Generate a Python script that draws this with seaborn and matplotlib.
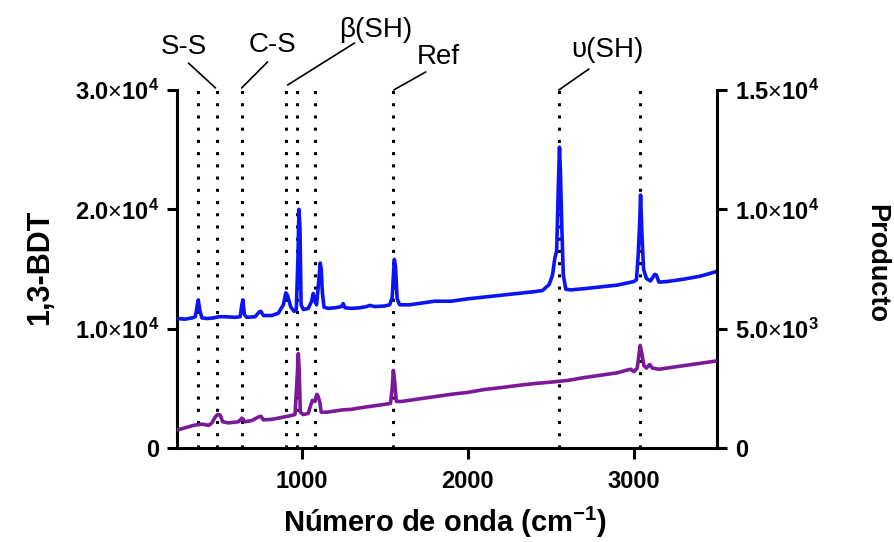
import matplotlib
matplotlib.use("Agg")
import matplotlib.pyplot as plt
import seaborn as sns
import pandas as pd
from matplotlib.ticker import FuncFormatter, FixedLocator

# ---- data ----
bdt_x = [250, 300, 340, 360, 370, 378, 388, 400, 430, 470, 500, 540, 600, 630, 640, 647, 655, 670,
         720, 745, 755, 770, 820, 860, 890, 905, 915, 935, 955, 968, 978, 984, 990, 997, 1010, 1040,
         1060, 1070, 1080, 1090, 1100, 1112, 1118, 1125, 1135, 1160, 1200, 1240, 1250, 1262, 1300,
         1350, 1390, 1410, 1440, 1500, 1530, 1545, 1558, 1565, 1575, 1590, 1650, 1700, 1800, 1900,
         2000, 2100, 2200, 2300, 2400, 2450, 2490, 2510, 2525, 2535, 2545, 2552, 2558, 2565, 2575,
         2590, 2620, 2700, 2800, 2900, 2950, 3000, 3015, 3025, 3035, 3040, 3048, 3058, 3075, 3100,
         3125, 3135, 3150, 3200, 3300, 3400, 3450, 3500]
bdt_y = [10850, 10800, 10900, 11000, 11800, 12400, 11500, 10900, 10850, 10900, 11000, 11000, 10950,
         11000, 12000, 12400, 11200, 10950, 11000, 11400, 11450, 11100, 11100, 11300, 12000, 13000,
         12800, 11800, 11450, 11600, 16000, 20000, 18500, 12000, 11600, 11700, 12300, 12950, 12300,
         12000, 13500, 15500, 15000, 13000, 11800, 11700, 11750, 11850, 12100, 11750, 11700, 11750,
         11850, 11950, 11850, 11900, 12000, 12600, 15800, 15200, 12500, 12000, 12000, 12100, 12300,
         12300, 12500, 12650, 12800, 12950, 13100, 13200, 13700, 14500, 16000, 16500, 22000, 25200,
         23000, 19000, 14500, 13300, 13250, 13350, 13500, 13650, 13800, 13950, 14100, 16000, 19000,
         21200, 18000, 15000, 14200, 14000, 14550, 14500, 13900, 13950, 14150, 14400, 14600, 14800]

prod_x = [250, 300, 350, 400, 440, 460, 480, 495, 510, 525, 560, 620, 640, 648, 660, 700, 740, 755,
          770, 820, 880, 930, 960, 972, 980, 986, 992, 1010, 1040, 1055, 1065, 1080, 1092, 1100,
          1110, 1118, 1150, 1200, 1250, 1300, 1350, 1400, 1450, 1500, 1535, 1545, 1552, 1560, 1570,
          1600, 1700, 1800, 1900, 2000, 2100, 2200, 2300, 2400, 2500, 2600, 2700, 2800, 2900, 2950,
          2980, 3000, 3020, 3030, 3038, 3048, 3060, 3075, 3095, 3110, 3150, 3200, 3300, 3400, 3500]
prod_y = [750, 850, 950, 1000, 950, 1050, 1300, 1400, 1380, 1100, 1050, 1100, 1250, 1200, 1100,
          1150, 1300, 1330, 1180, 1200, 1280, 1350, 1400, 2800, 3950, 3200, 1500, 1400, 1450, 1800,
          2000, 1950, 2250, 2150, 1900, 1500, 1500, 1550, 1600, 1620, 1680, 1730, 1780, 1830, 1870,
          2500, 3250, 2800, 1950, 1950, 2050, 2150, 2250, 2330, 2450, 2530, 2620, 2700, 2760, 2830,
          2950, 3050, 3150, 3250, 3300, 3200, 3350, 3900, 4300, 3950, 3450, 3350, 3500, 3350, 3300,
          3350, 3450, 3550, 3650]

band_positions = [375, 492, 643, 908, 970, 1078, 1552, 2550, 3038]

x_ticks = [1000, 2000, 3000]
left_ticks = [0, 10000, 20000, 30000]
right_ticks = [0, 5000, 10000, 15000]

# ---- style ----
sns.set_style("ticks")
plt.rcParams["font.family"] = ["Liberation Sans", "DejaVu Sans"]
plt.rcParams["mathtext.fontset"] = "custom"
plt.rcParams["mathtext.rm"] = "Liberation Sans"
plt.rcParams["mathtext.bf"] = "Liberation Sans:bold"
plt.rcParams["mathtext.it"] = "Liberation Sans:italic"
for k in ["text.color", "axes.labelcolor", "xtick.color", "ytick.color", "axes.edgecolor"]:
    plt.rcParams[k] = "black"

fig = plt.figure(figsize=(8.94, 5.42), dpi=100)
ax = fig.add_axes([177 / 894, 1 - 448 / 542, (717 - 177) / 894, (448 - 90) / 542])
ax2 = ax.twinx()

df_bdt = pd.DataFrame({"x": bdt_x, "y": bdt_y})
df_prod = pd.DataFrame({"x": prod_x, "y": prod_y})

for xb in band_positions:
    ax.axvline(xb, color="black", lw=2.2, linestyle=(0, (1, 3.0)), zorder=1)

sns.lineplot(data=df_bdt, x="x", y="y", ax=ax, color="#0a14f5", lw=2.6, zorder=3)
sns.lineplot(data=df_prod, x="x", y="y", ax=ax2, color="#7a1a9a", lw=2.6, zorder=3)

ax.set_xlim(250, 3500)
ax.set_ylim(0, 30000)
ax2.set_ylim(0, 15000)

def sci_fmt(v, pos):
    if v == 0:
        return "0"
    exp = 0
    m = v
    while m >= 10:
        m /= 10
        exp += 1
    return r"$\mathbf{%.1f}$$\times$$\mathbf{10^{%d}}$" % (m, exp)

ax.xaxis.set_major_locator(FixedLocator(x_ticks))
ax.yaxis.set_major_locator(FixedLocator(left_ticks))
ax2.yaxis.set_major_locator(FixedLocator(right_ticks))
ax.yaxis.set_major_formatter(FuncFormatter(sci_fmt))
ax2.yaxis.set_major_formatter(FuncFormatter(sci_fmt))

for a in (ax, ax2):
    a.spines["top"].set_visible(False)
    for s in a.spines.values():
        s.set_linewidth(2.2)
    a.tick_params(width=2.2, length=7, pad=6, labelsize=17)
    for lbl in a.get_yticklabels() + a.get_xticklabels():
        lbl.set_fontweight("bold")
ax.spines["right"].set_visible(False)
ax2.spines["left"].set_visible(False)
ax2.spines["bottom"].set_visible(False)
ax.tick_params(axis="x", length=8, pad=8)

ax.set_xlabel("")
ax.set_ylabel("")
ax2.set_ylabel("")
fig.text(445 / 894, 1 - 522 / 542, r"Número de onda (cm$^{\mathbf{-1}}$)", fontsize=21,
         fontweight="bold", ha="center", va="center")
fig.text(40 / 894, 1 - 267 / 542, "1,3-BDT", fontsize=22, fontweight="bold",
         rotation=90, ha="center", va="center")
fig.text(876 / 894, 1 - 263 / 542, "Producto", fontsize=19.5, fontweight="bold",
         rotation=-90, ha="center", va="center")

# ---- band annotations (text + leader lines) ----
labels = [
    ("S-S", 289, 33600, (319, 32260), (482, 30170)),
    ("C-S", 825, 33770, (795, 32350), (639, 30170)),
    ("β(SH)", 1446, 35030, (1319, 33940), (916, 30420)),
    ("Ref", 1825, 32770, (1747, 31510), (1554, 30000)),
    ("υ(SH)", 2843, 33350, (2729, 31760), (2548, 30000)),
]
for txt, tx, ty, p0, p1 in labels:
    ax.text(tx, ty, txt, ha="center", va="center", fontsize=20, clip_on=False)
    ax.plot([p0[0], p1[0]], [p0[1], p1[1]], color="black", lw=1.2, clip_on=False)

fig.savefig("out.png", dpi=100)
